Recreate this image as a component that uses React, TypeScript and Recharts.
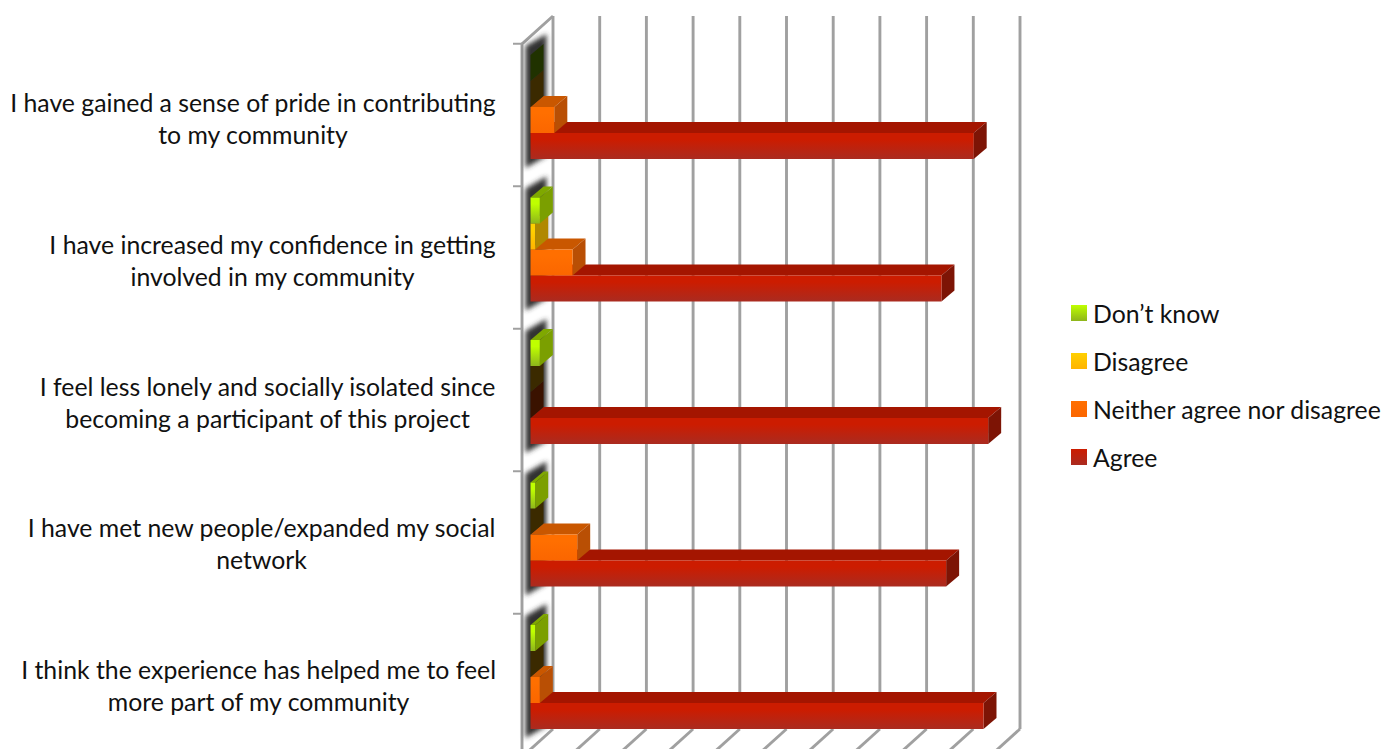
import React from 'react';
import { BarChart, Bar, XAxis, YAxis, CartesianGrid, Legend } from 'recharts';

const categoryLines = [
  ['I have gained a sense of pride in contributing', 'to my community'],
  ['I have increased my confidence in getting', 'involved in my community'],
  ['I feel less lonely and socially isolated since', 'becoming a participant of this project'],
  ['I have met new people/expanded my social', 'network'],
  ['I think the experience has helped me to feel', 'more part of my community'],
];
const categories = categoryLines.map((lines) => lines.join(' '));

const agree = [94.9, 88, 98, 89, 97];
const neither = [5.1, 9, 0, 10, 2];
const disagree = [0, 1, 0, 0, 0];
const dontKnow = [0, 2, 2, 1, 1];

const xTicks = [0, 10, 20, 30, 40, 50, 60, 70, 80, 90, 100];

const data = categories.map((name, i) => ({
  name,
  Agree: agree[i],
  'Neither agree nor disagree': neither[i],
  Disagree: disagree[i],
  'Don\u2019t know': dontKnow[i],
}));

const FONT = 'Lato, sans-serif';
const FONT_SIZE = 24.8;
const WALL = '#a0a0a0';

// depth of a bar
const DX = 13;
const DY = 11;

type Look = { id: string; from: string; to: string; top: string; side: string; zero: string };

const looks: Record<string, Look> = {
  Agree: { id: 'agreeFace', from: '#cc1c00', to: '#aa2b20', top: '#a41500', side: '#7d1405', zero: '#3a1000' },
  'Neither agree nor disagree': { id: 'neitherFace', from: '#ff6f00', to: '#fb6600', top: '#c95700', side: '#b94f04', zero: '#3a1200' },
  Disagree: { id: 'disagreeFace', from: '#ffd000', to: '#ffb400', top: '#b98f00', side: '#b08800', zero: '#3b2a00' },
  'Don\u2019t know': { id: 'dontKnowFace', from: '#bfff00', to: '#8eb51c', top: '#7fa800', side: '#7b9f00', zero: '#203200' },
};

const seriesNames = ['Agree', 'Neither agree nor disagree', 'Disagree', 'Don\u2019t know'];

// Series go back to front, so each bar covers the top face of the one under it.
// The slot is then flipped so Agree still sits at the bottom of its group.
const Bar3D = ({ x, y, width, height, name, slot }: any) => {
  const look = looks[name];
  const top = y + (3 - 2 * slot) * height;
  const right = x + width;
  const bottom = top + height;
  return (
    <g>
      {slot === 0 && (
        <polygon
          points={`${x - 5},${top - 87} ${x + 16},${top - 99} ${x + 16},${top + 23} ${x - 5},${top + 35}`}
          fill="#303030"
          filter="url(#wallShadow)"
        />
      )}
      {width > 0 && (
        <polygon
          points={`${x},${top} ${x + DX},${top - DY} ${right + DX},${top - DY} ${right},${top}`}
          fill={look.top}
        />
      )}
      <polygon
        points={`${right},${top} ${right + DX},${top - DY} ${right + DX},${bottom - DY} ${right},${bottom}`}
        fill={width > 0 ? look.side : look.zero}
      />
      {width > 0 && <rect x={x} y={top} width={width} height={height} fill={`url(#${look.id})`} />}
    </g>
  );
};

const measure = (text: string) => {
  const ctx = document.createElement('canvas').getContext('2d');
  if (!ctx) return text.length * 10;
  ctx.font = `${FONT_SIZE}px ${FONT}`;
  return ctx.measureText(text).width;
};

// two centred lines whose longest line ends at the same right edge
const CategoryTick = ({ y, index }: any) => {
  const lines = categoryLines[index];
  const cx = 496 - Math.max(...lines.map(measure)) / 2;
  const mid = y + 11.5 - 0.8 * index;
  return (
    <g>
      <line x1={513} x2={522} y1={y - 63.5} y2={y - 63.5} stroke={WALL} strokeWidth={2} />
      {lines.map((line, i) => (
        <text
          key={line}
          x={cx}
          y={mid + (i === 0 ? -16 : 16)}
          textAnchor="middle"
          dominantBaseline="central"
          fontFamily={FONT}
          fontSize={FONT_SIZE}
          fill="#111"
        >
          {line}
        </text>
      ))}
    </g>
  );
};

// back wall line, floor line, and for the first tick the side wall
const WallLine = ({ x1, y1, y2, index }: any) => {
  const backX = x1 + 22.5;
  const backTop = y1 - 20;
  const backBottom = y2 - 19.5;
  return (
    <g key={`wall-${index}`} fill="none" stroke={WALL} strokeWidth={2.9}>
      <line x1={backX} x2={backX} y1={backTop} y2={backBottom} />
      <line x1={backX} y1={backBottom} x2={backX - 31} y2={backBottom + 28} />
      {index === 0 && <path d={`M${backX},${backTop} L${backX - 31},${backTop + 28} V${y2 + 9}`} />}
    </g>
  );
};

const LegendList = () => (
  <div style={{ fontFamily: FONT, fontSize: FONT_SIZE, color: '#111' }}>
    {[...seriesNames].reverse().map((name) => (
      <div key={name} style={{ display: 'flex', alignItems: 'center', height: 48, whiteSpace: 'nowrap' }}>
        <span
          style={{
            width: 16,
            height: 16,
            marginRight: 6,
            background: `linear-gradient(${looks[name].from}, ${looks[name].to})`,
          }}
        />
        {name}
      </div>
    ))}
  </div>
);

const App = () => (
  <div style={{ position: 'absolute', left: 0, top: 0, width: 1385, height: 749, overflow: 'hidden' }}>
    <BarChart
      width={1385}
      height={749}
      data={data}
      layout="vertical"
      barSize={26}
      barGap={0}
      margin={{ top: 36, right: 73.5, bottom: 0.5, left: 0 }}
    >
      <defs>
        {seriesNames.map((name) => (
          <linearGradient key={name} id={looks[name].id} x1="0" y1="0" x2="0" y2="1">
            <stop offset="0.25" stopColor={looks[name].from} />
            <stop offset="1" stopColor={looks[name].to} />
          </linearGradient>
        ))}
        <filter id="wallShadow" x="-50%" y="-20%" width="200%" height="140%">
          <feGaussianBlur stdDeviation="2.6" />
        </filter>
      </defs>
      <CartesianGrid horizontal={false} vertical={WallLine} />
      <XAxis type="number" domain={[0, 100]} ticks={xTicks} hide />
      <YAxis
        type="category"
        dataKey="name"
        width={530.5}
        axisLine={false}
        tickLine={false}
        interval={0}
        tick={CategoryTick}
      />
      <Legend
        layout="vertical"
        align="right"
        verticalAlign="top"
        width={314}
        content={LegendList}
        wrapperStyle={{ left: 1071, top: 289, width: 314 }}
      />
      {seriesNames.map((name, slot) => (
        <Bar
          key={name}
          dataKey={name}
          fill={looks[name].from}
          isAnimationActive={false}
          shape={(props: any) => <Bar3D {...props} name={name} slot={slot} />}
        />
      ))}
    </BarChart>
  </div>
);

export default App;
